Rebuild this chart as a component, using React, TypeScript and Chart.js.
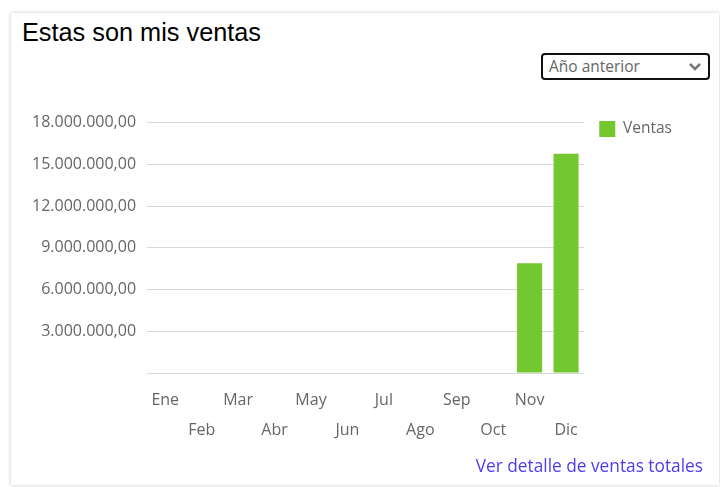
import React, { useEffect, useRef } from "react";
import { Chart, registerables } from "chart.js";

Chart.register(...registerables);

const months = ["Ene", "Feb", "Mar", "Abr", "May", "Jun", "Jul", "Ago", "Sep", "Oct", "Nov", "Dic"];
const ventas = [0, 0, 0, 0, 0, 0, 0, 0, 0, 0, 7900000, 15780000];
const seriesLabel = "Ventas";
const yMax = 18000000;
const yStep = 3000000;

function formatEs(v: number): string {
  const fixed = Math.abs(v).toFixed(2);
  const [intPart, dec] = fixed.split(".");
  const grouped = intPart.replace(/\B(?=(\d{3})+(?!\d))/g, ".");
  return (v < 0 ? "-" : "") + grouped + "," + dec;
}

export default function App() {
  const canvasRef = useRef<HTMLCanvasElement | null>(null);

  useEffect(() => {
    if (!canvasRef.current) return;
    const fam = "'Open Sans', sans-serif";
    const chart = new Chart(canvasRef.current, {
      type: "bar",
      data: {
        labels: months,
        datasets: [
          {
            label: seriesLabel,
            data: ventas,
            backgroundColor: "#73c72f",
            borderWidth: 0,
            barPercentage: 0.86,
            categoryPercentage: 0.8,
          },
        ],
      },
      options: {
        animation: false,
        responsive: false,
        maintainAspectRatio: false,
        layout: { padding: { left: 0, top: 11, right: 0, bottom: 0 } },
        plugins: {
          tooltip: { enabled: false },
          legend: {
            position: "right",
            align: "start",
            labels: {
              boxWidth: 16,
              boxHeight: 16,
              color: "#666",
              font: { family: fam, size: 15.5 },
              padding: 15,
            },
          },
        },
        scales: {
          x: {
            grid: { display: false, drawTicks: false },
            border: { display: false },
            ticks: {
              autoSkip: false,
              maxRotation: 0,
              minRotation: 0,
              padding: 12,
              color: "#666",
              font: { family: fam, size: 16, lineHeight: 1.875 },
              callback: (_v: any, i: number) => (i % 2 === 0 ? [months[i]] : ["", months[i]]),
            },
          },
          y: {
            min: 0,
            max: yMax,
            border: { display: false },
            grid: { color: "#d9d9d9", lineWidth: 1, drawTicks: false },
            ticks: {
              stepSize: yStep,
              padding: 11,
              color: "#666",
              font: { family: fam, size: 16, lineHeight: 2.1 },
              callback: (v: any) => (v === 0 ? "" : formatEs(Number(v))),
            },
          },
        },
      },
    });
    return () => chart.destroy();
  }, []);

  return (
    <div style={{ position: "fixed", left: 0, top: 0, width: 720, height: 487, background: "#fff", overflow: "hidden" }}>
      <div
        style={{
          position: "absolute",
          left: 11,
          top: 13,
          width: 708,
          height: 472,
          background: "#fff",
          boxShadow: "0 0 4px rgba(0,0,0,0.22)",
        }}
      />
      <div
        style={{
          position: "absolute",
          left: 22,
          top: 15,
          fontFamily: "'Liberation Sans', Arial, sans-serif",
          fontSize: 25.3,
          color: "#000",
          lineHeight: "34px",
          whiteSpace: "nowrap",
        }}
      >
        Estas son mis ventas
      </div>
      <div
        style={{
          position: "absolute",
          left: 541,
          top: 53,
          width: 169,
          height: 27,
          boxSizing: "border-box",
          border: "2px solid #111",
          borderRadius: 4,
          fontFamily: "'Open Sans', sans-serif",
          fontSize: 15.5,
          color: "#666",
          lineHeight: "23px",
          paddingLeft: 6,
          whiteSpace: "nowrap",
        }}
      >
        Año anterior
        <svg
          width="14"
          height="10"
          viewBox="0 0 14 10"
          style={{ position: "absolute", right: 6, top: 7 }}
        >
          <polyline points="2,2 7,7 12,2" fill="none" stroke="#777" strokeWidth="2.5" />
        </svg>
      </div>
      <canvas
        ref={canvasRef}
        width={661}
        height={362}
        style={{ position: "absolute", left: 21, top: 95, width: 661, height: 362 }}
      />
      <div
        style={{
          position: "absolute",
          right: 17,
          top: 453,
          fontFamily: "'Open Sans', sans-serif",
          fontSize: 17.3,
          color: "#4f3cf2",
          lineHeight: "26px",
          whiteSpace: "nowrap",
        }}
      >
        Ver detalle de ventas totales
      </div>
    </div>
  );
}
